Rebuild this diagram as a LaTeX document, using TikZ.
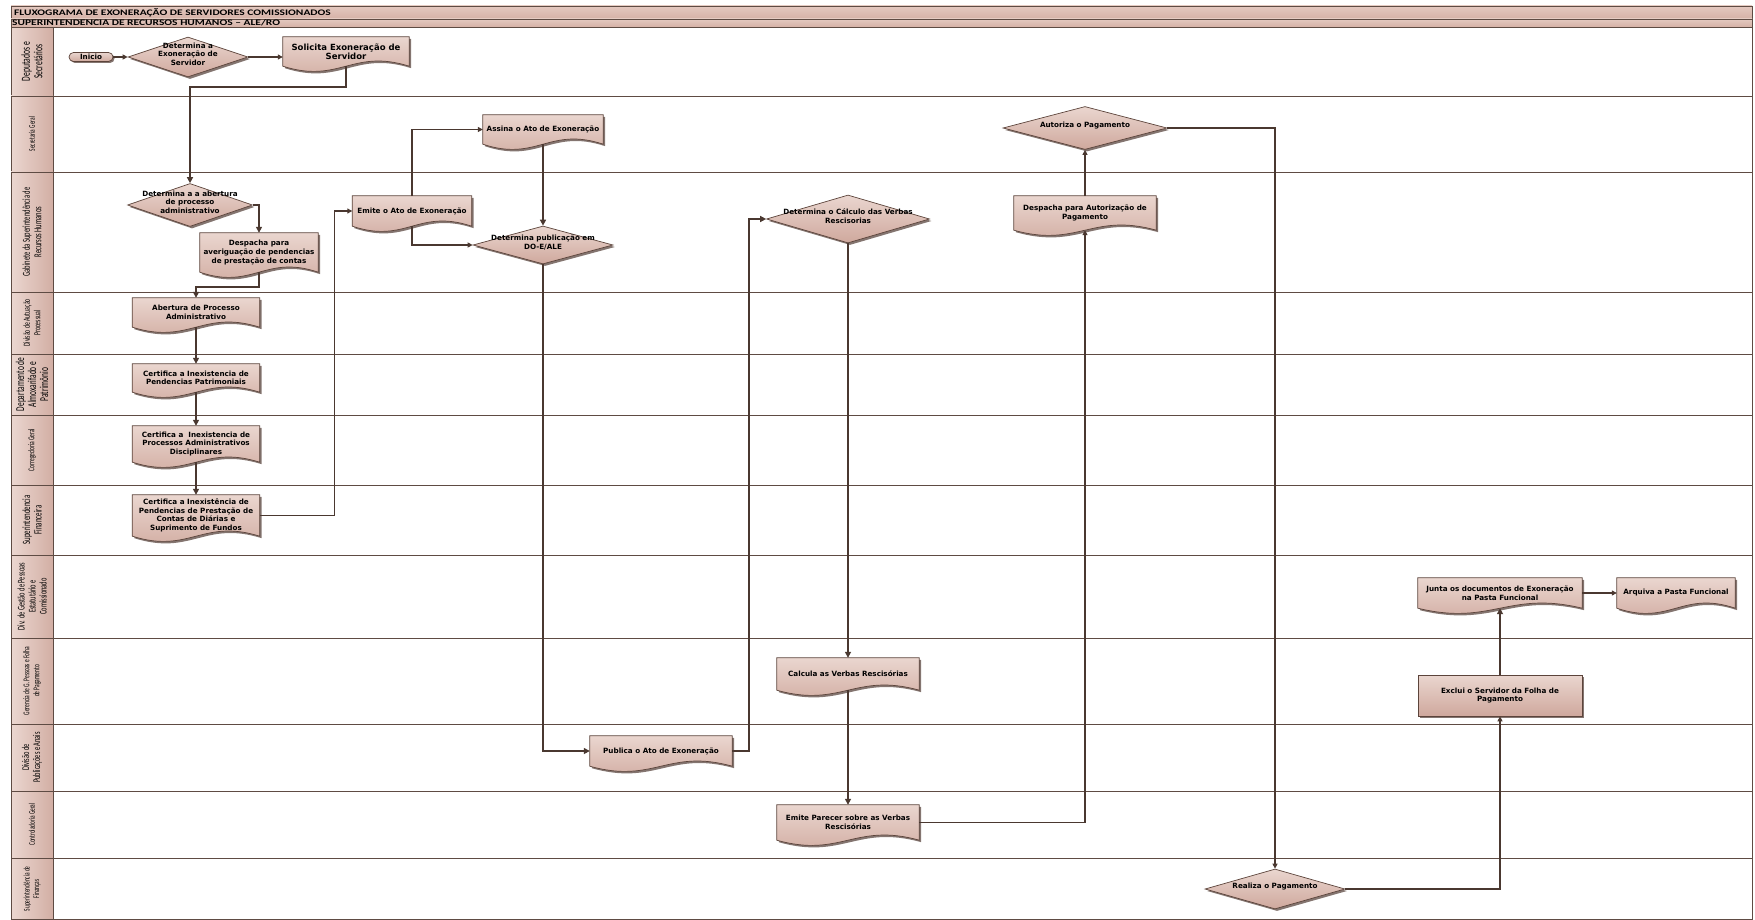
\documentclass[tikz,border=0pt]{standalone}
\usepackage{fontspec}
\setmainfont{DejaVu Sans}
\newfontfamily\titlefont[FakeStretch=1.35]{Carlito}
\newfontfamily\lanefont[FakeStretch=0.62]{Carlito}
\usetikzlibrary{shapes.geometric,arrows.meta,calc,shadows}

\pgfdeclarelayer{lanes}
\pgfdeclarelayer{boxes}
\pgfsetlayers{lanes,boxes,main}

\definecolor{laneline}{HTML}{5E4B43}
\definecolor{flowc}{HTML}{4A3830}
\definecolor{boxtop}{HTML}{EAD6CF}
\definecolor{boxbot}{HTML}{CFA89D}
\definecolor{boxline}{HTML}{5C443B}
\definecolor{boxshadow}{HTML}{6E5D57}
\definecolor{bandtop}{HTML}{E4C9C0}
\definecolor{bandbot}{HTML}{D5B1A6}
\definecolor{labtop}{HTML}{EBD7D0}
\definecolor{labbot}{HTML}{D2AEA4}

\newcommand{\nodetxt}{\bfseries\fontsize{7.2}{8.6}\selectfont}
\newcommand{\dtext}[1]{\smash{\makebox[0pt]{\begin{tabular}{@{}c@{}}#1\end{tabular}}}}

\begin{document}
\begin{tikzpicture}[x=1pt,y=-1pt]

	\tikzset{
		lane/.style={
			draw=laneline,
			line width=0.9pt
		},
		lanehead/.style={
			draw=laneline,
			line width=0.9pt,
			left color=labtop,
			right color=labbot
		},
		lanelabel/.style={
			rotate=90,
			align=center,
			inner sep=0pt
		},
		band/.style={
			draw=laneline,
			line width=0.8pt,
			top color=bandtop,
			bottom color=bandbot
		},
		process/.style={
			rectangle,
			align=center,
			inner sep=1pt,
			font=\nodetxt
		},
		docfill/.style={
			draw=boxline,
			line width=0.7pt,
			top color=boxtop,
			bottom color=boxbot,
			drop shadow={shadow xshift=2pt, shadow yshift=-2pt, fill=boxshadow, opacity=0.85}
		},
		action/.style={
			docfill
		},
		decision/.style={
			diamond,
			draw=boxline,
			line width=0.7pt,
			top color=boxtop,
			bottom color=boxbot,
			inner sep=0pt,
			font=\nodetxt,
			drop shadow={shadow xshift=2pt, shadow yshift=-2pt, fill=boxshadow, opacity=0.85}
		},
		terminal/.style={
			rectangle,
			rounded corners=4.5pt,
			draw=boxline,
			line width=0.7pt,
			top color=boxtop,
			bottom color=boxbot,
			inner sep=0pt,
			font=\nodetxt,
			drop shadow={shadow xshift=1.5pt, shadow yshift=-1.5pt, fill=boxshadow, opacity=0.85}
		},
		flow/.style={
			draw=flowc,
			line width=1.1pt,
			-{Triangle[length=5pt,width=5pt]}
		},
		flowthick/.style={
			flow,
			line width=1.8pt,
			-{Triangle[length=6pt,width=6pt]}
		}
	}

	\useasboundingbox (0,0) rectangle (1755,920);

	% LANES
	\begin{pgfonlayer}{lanes}
		\foreach \ya/\yb/\lbl/\fs/\bs [count=\i] in {
			27/96/{Deputados e\\Secretários}/12.3/12.5,
			96/172/{Secretaria Geral}/8.6/9,
			172/292/{Gabinete da Superintendência de\\Recursos Humanos}/10.6/11.5,
			292/354/{Divisão de Autuação\\Processual}/9.3/10.5,
			354/415/{Departamento de\\Almoxarifado e\\Patrimônio}/12/12,
			415/485/{Corregedoria Geral}/8.9/9.5,
			485/555/{Superintendencia\\Financeira}/11.1/11.5,
			555/638/{Div. de Gestão de Pessoas\\Estatutário e\\Comissionado}/10.3/11,
			638/724/{Gerencia de G. Pessoas e Folha\\de Pagamento}/8.8/10,
			724/791/{Divisão de\\Publicações e Anais}/10.3/11,
			791/858/{Controladoria Geral}/8.6/9.5,
			858/919.5/{Superintendência de\\Finanças}/8.6/9.5} {
			\draw[lane] (11,\ya) rectangle (1752,\yb);
			\shade[lanehead] (11,\ya) rectangle (53,\yb);
			\node[lanelabel, font={\lanefont\fontsize{\fs}{\bs}\selectfont}] (lane\i) at (32,{(\ya+\yb)/2}) {\lbl};
		}

		% TITLE
		\shade[band] (11,6) rectangle (1752,19);
		\shade[band] (11,19) rectangle (1752,27);
		\node[anchor=west, inner sep=0pt, font={\titlefont\bfseries\fontsize{8.5}{9}\selectfont}] (title) at (14,12.8) {FLUXOGRAMA DE EXONERAÇÃO DE SERVIDORES COMISSIONADOS};
		\node[anchor=west, inner sep=0pt, font={\titlefont\bfseries\fontsize{8.5}{9}\selectfont}] (subtitle) at (12,23) {SUPERINTENDENCIA DE RECURSOS HUMANOS – ALE/RO};
	\end{pgfonlayer}

	% START
	\node[terminal, minimum width=44, minimum height=9] (inicio) at (91,57) {Inicio};
	\node[decision, minimum width=120, minimum height=40] (d1) at (188,57) {\dtext{Determina a\\Exoneração de\\Servidor}};
	\node[process, minimum width=126, minimum height=29, font=\bfseries\fontsize{8.5}{9}\selectfont] (solicita) at (346,51.5) {Solicita Exoneração  de\\Servidor};

	% GABINETE / CHECKS
	\node[decision, minimum width=125, minimum height=43] (d2) at (190,205) {\dtext{Determina a a abertura\\de processo\\administrativo}};
	\node[process, minimum width=118, minimum height=39] (despachaA) at (259,252.5) {Despacha para\\averiguação de pendencias\\de prestação de contas};
	\node[process, minimum width=127, minimum height=29] (abertura) at (196,312.5) {Abertura de Processo\\Administrativo};
	\node[process, minimum width=127, minimum height=28] (certA) at (196,378) {Certifica a Inexistencia de\\Pendencias Patrimoniais};
	\node[process, minimum width=127, minimum height=36] (certB) at (196,444) {Certifica a \ Inexistencia de\\Processos Administrativos\\Disciplinares};
	\node[process, minimum width=127, minimum height=41] (certC) at (196,515.5) {Certifica a Inexistência de\\Pendencias de Prestação de\\Contas de Diárias e\\Suprimento de Fundos};

	% ATO DE EXONERACAO
	\node[process, minimum width=119, minimum height=30] (emite) at (412,211) {Emite o Ato de Exoneração};
	\node[process, minimum width=120, minimum height=29] (assina) at (543,129.5) {Assina o Ato de Exoneração};
	\node[decision, minimum width=140, minimum height=38] (d3) at (543,245) {\dtext{Determina publicação em\\DO-E/ALE}};
	\node[process, minimum width=142, minimum height=30] (publica) at (661,751) {Publica o Ato de Exoneração};

	% VERBAS RESCISORIAS
	\node[decision, minimum width=163, minimum height=48] (d4) at (848,219) {\dtext{Determina o Cálculo das Verbas\\Rescisorias}};
	\node[process, minimum width=142, minimum height=32] (calcula) at (848,674) {Calcula as Verbas Rescisórias};
	\node[process, minimum width=142, minimum height=35] (parecer) at (848,822.5) {Emite Parecer sobre as Verbas\\Rescisórias};

	% PAGAMENTO
	\node[process, minimum width=142, minimum height=34] (despachaB) at (1085,213) {Despacha para Autorização de\\Pagamento};
	\node[decision, minimum width=164, minimum height=43] (d5) at (1085,128) {\dtext{Autoriza o Pagamento}};
	\node[decision, minimum width=140, minimum height=40] (d6) at (1275,889) {\dtext{Realiza o Pagamento}};
	\node[process, action, minimum width=164, minimum height=41] (exclui) at (1500,695.5) {Exclui o Servidor da Folha de\\Pagamento};
	\node[process, minimum width=164, minimum height=30] (junta) at (1500,593) {Junta os documentos de Exoneração\\na Pasta Funcional};
	\node[process, minimum width=118, minimum height=30] (arquiva) at (1676,593) {Arquiva a Pasta Funcional};

	% DOCUMENT OUTLINES
	\begin{pgfonlayer}{boxes}
		\foreach \n in {solicita,despachaA,abertura,certA,certB,certC,emite,assina,publica,calcula,parecer,despachaB,junta,arquiva}
			\path[docfill] (\n.north west) -- (\n.north east) -- (\n.south east)
				.. controls ($(\n.south west)!0.55!(\n.south east)+(0,-18)$) and ($(\n.south west)!0.45!(\n.south east)+(0,18)$) .. (\n.south west) -- cycle;
	\end{pgfonlayer}

	% CONNECTORS
	\draw[flow] (inicio.east) -- (d1.west);
	\draw[flow] (d1.east) -- (d1.east -| solicita.west);
	\draw[flowthick] (solicita.south) -- ++(0,21) -| (d2.north);
	\draw[flowthick] (d2.east) -| (despachaA.north);
	\draw[flowthick] (despachaA.south) -- ++(0,15) -| (abertura.north);
	\draw[flowthick] (abertura.south) -- (certA.north);
	\draw[flowthick] (certA.south) -- (certB.north);
	\draw[flowthick] (certB.south) -- (certC.north);
	\draw[flow] (certC.east) -- ++(75,0) |- (emite.west);
	\draw[flow] (emite.north) |- (assina.west);
	\draw[flow] (emite.south) |- (d3.west);
	\draw[flowthick] (assina.south) -- (d3.north);
	\draw[flowthick] (d3.south) |- (publica.west);
	\draw[flowthick] (publica.east) -- ++(17,0) |- (d4.west);
	\draw[flowthick] (d4.south) -- (calcula.north);
	\draw[flowthick] (calcula.south) -- (parecer.north);
	\draw[flow] (parecer.east) -| (despachaB.south);
	\draw[flow] (despachaB.north) -- (d5.south);
	\draw[flow] (d5.east) -| (d6.north);
	\draw[flow] (d6.east) -| (exclui.south);
	\draw[flowthick] (exclui.north) -- (junta.south);
	\draw[flow] (junta.east) -- (arquiva.west);

\end{tikzpicture}
\end{document}
